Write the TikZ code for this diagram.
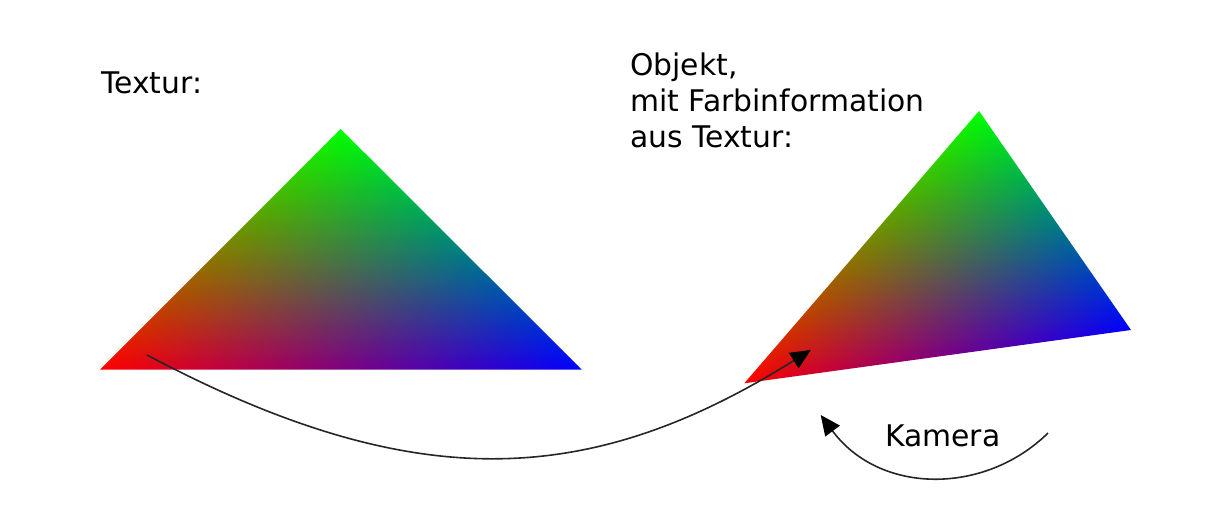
\documentclass[tikz,border=0pt]{standalone}
\usepackage{fontspec}
\setmainfont{DejaVu Sans}
\usetikzlibrary{arrows.meta}
% barycentric colour of the flat texture triangle (R bottom left, G top, B bottom right)
\pgfdeclarefunctionalshading{texshade}{\pgfpointorigin}{\pgfpoint{100bp}{100bp}}{}{
 25 sub 50 div exch 25 sub 50 div exch
 2 copy 0.5 mul exch 1.0 mul add 1 exch sub 3 1 roll
 2 copy 1.0 mul exch 0.0 mul sub 3 1 roll
 0.5 mul exch 1.0 mul exch sub
}
% barycentric colour of the object triangle
\pgfdeclarefunctionalshading{objshade}{\pgfpointorigin}{\pgfpoint{100bp}{100bp}}{}{
 25 sub 50 div exch 25 sub 50 div exch
 2 copy 0.44608 mul exch 0.91270 mul add 1 exch sub 3 1 roll
 2 copy 1.13478 mul exch 0.22208 mul sub 3 1 roll
 0.68870 mul exch 1.13478 mul exch sub
}
\begin{document}
\begin{tikzpicture}[x=1pt,y=-1pt,
  lbl/.style={font=\fontsize{29.8}{35.6}\selectfont, inner sep=0pt, text=black},
  conn/.style={draw=black!85, line width=1.6pt, -{Triangle[length=20pt,width=18pt,color=black]}}]
\useasboundingbox (0,0) rectangle (1228,512);
\shade[shading=texshade] (100,369.5) -- (340.7,129) -- (581.7,369.5) -- cycle;
\shade[shading=objshade] (744.3,383.3) -- (979,111) -- (1131,330) -- cycle;
\node[lbl, anchor=base west] (textur) at (101,93.3) {Textur:};
\node[lbl, anchor=base west, align=left] (objekt) at (630,147) {Objekt,\\mit Farbinformation\\aus Textur:};
\node[lbl, anchor=base west] (kamera) at (885,446.7) {Kamera};
\coordinate (a1s) at (147,355);
\coordinate (a1e) at (810.7,350);
\coordinate (a2s) at (1048,433);
\coordinate (a2e) at (820.7,415);
\draw[conn] (a1s) .. controls (415,497) and (590,488) .. (a1e);
\draw[conn] (a2s) .. controls (985,495) and (880,495) .. (a2e);
\end{tikzpicture}
\end{document}
